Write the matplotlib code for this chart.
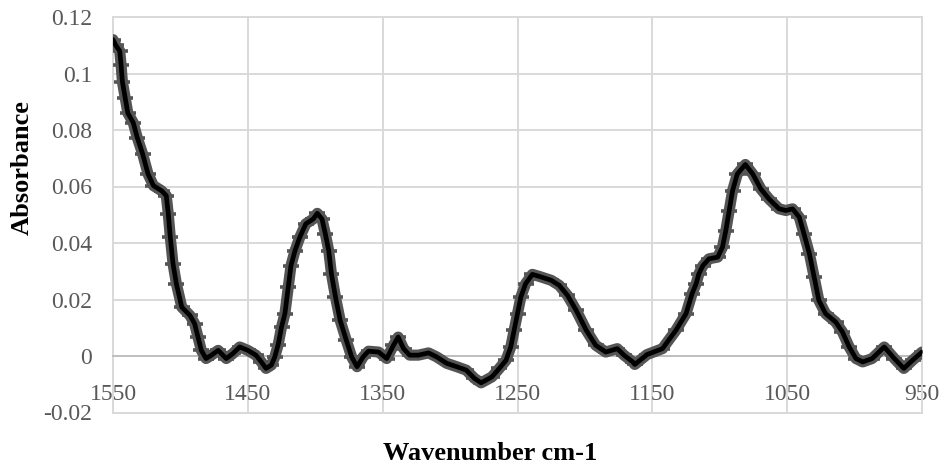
import matplotlib
matplotlib.use("Agg")
import matplotlib.pyplot as plt

plt.rcParams['font.family'] = ['Liberation Serif', 'DejaVu Serif']

wavenumber = [1550, 1548, 1545, 1544, 1543, 1541, 1539, 1535, 1532, 1528, 1524, 1520,
              1514, 1510.5, 1509, 1507.5, 1505.5, 1503, 1499, 1493, 1489.5, 1487, 1484.5,
              1481, 1477, 1472, 1466, 1461, 1456, 1450, 1444, 1440, 1436.5, 1432.5, 1430,
              1427.5, 1425, 1422.5, 1420, 1418, 1415, 1411.5, 1407, 1401.5, 1398.5, 1395,
              1392.5, 1390, 1388, 1385, 1381.5, 1377, 1373, 1369, 1364.5, 1360.5, 1353,
              1347, 1342, 1338.5, 1334.5, 1330, 1323.5, 1316, 1310, 1302.5, 1295, 1288,
              1282, 1277, 1269, 1263.5, 1258.5, 1255, 1252.5, 1250, 1247.5, 1244, 1239,
              1234, 1225, 1219, 1213, 1206.5, 1199, 1192, 1184.5, 1176, 1171, 1164.5,
              1163, 1154, 1142.5, 1132.5, 1125, 1120.5, 1117.5, 1115.5, 1112.5, 1108,
              1101.5, 1098, 1095.5, 1093, 1090.5, 1087, 1081, 1075.5, 1069.5, 1063.5,
              1056, 1051, 1046, 1041, 1037.5, 1033.5, 1030, 1026.5, 1021.5, 1014, 1009,
              1004, 999, 994, 987, 978, 970.5, 963.5, 957, 950]
absorbance = [0.112, 0.110, 0.108, 0.103, 0.097, 0.0915, 0.086, 0.0826, 0.0773, 0.0715,
              0.0644, 0.0603, 0.0585, 0.0568, 0.0503, 0.042, 0.0327, 0.0256, 0.0173,
              0.0144, 0.0115, 0.0067, 0.002, -0.0009, 0.0003, 0.002, -0.0009, 0.0009,
              0.0032, 0.002, 0.0003, -0.0021, -0.0044, -0.0032, -0.0003, 0.004, 0.0103,
              0.015, 0.0244, 0.032, 0.0373, 0.042, 0.0468, 0.0485, 0.0505, 0.0485, 0.0432,
              0.0373, 0.0291, 0.0209, 0.0126, 0.0056, -0.0003, -0.0038, -0.0003, 0.0017,
              0.0014, -0.0009, 0.0038, 0.0067, 0.0026, 0.0003, 0.0003, 0.0011, -0.0003,
              -0.0026, -0.0038, -0.005, -0.0079, -0.0095, -0.0074, -0.0044, -0.0015,
              0.0032, 0.0091, 0.015, 0.0209, 0.0256, 0.0289, 0.0282, 0.0268, 0.025,
              0.0215, 0.0162, 0.0091, 0.0038, 0.0014, 0.0026, 0.0003, -0.0021, -0.003,
              0.0005, 0.0026, 0.0091, 0.015, 0.0221, 0.0256, 0.0291, 0.032, 0.0344,
              0.035, 0.0385, 0.0444, 0.0515, 0.0585, 0.0644, 0.0678, 0.0644, 0.0591,
              0.0556, 0.0521, 0.0515, 0.0521, 0.0491, 0.0432, 0.0362, 0.0279, 0.0197,
              0.015, 0.012, 0.0085, 0.0032, -0.0009, -0.0021, -0.0009, 0.0032, -0.0009,
              -0.0044, -0.0015, 0.0014]

x_ticks = [1550, 1450, 1350, 1250, 1150, 1050, 950]
y_ticks = [-0.02, 0, 0.02, 0.04, 0.06, 0.08, 0.1, 0.12]
y_tick_labels = ['-0.02', '0', '0.02', '0.04', '0.06', '0.08', '0.1', '0.12']

grid_c = '#d9d9d9'
fig = plt.figure(figsize=(9.45, 4.71), dpi=100)
ax = fig.add_axes([113 / 945, 1 - 412.5 / 471, (922 - 113) / 945, (412.5 - 17) / 471])

ax.plot(wavenumber, absorbance, color='#555555', lw=8.0, solid_capstyle='round',
        solid_joinstyle='round', zorder=3)
ax.plot(wavenumber, absorbance, ls='none', marker='_', ms=11, mew=2.6,
        color='#555555', zorder=3.2)
ax.plot(wavenumber, absorbance, color='black', lw=3.4, solid_joinstyle='round',
        solid_capstyle='round', zorder=4)

ax.set_xlim(1550, 950)
ax.set_ylim(-0.02, 0.12)
ax.set_xticks(x_ticks)
ax.set_xticklabels([str(v) for v in x_ticks])
ax.set_yticks(y_ticks)
ax.set_yticklabels(y_tick_labels)

ax.grid(True, color=grid_c, lw=1.4, zorder=0)
ax.set_axisbelow(True)

for s in ['left', 'right', 'top']:
    ax.spines[s].set_color(grid_c)
    ax.spines[s].set_linewidth(1.4)
ax.spines['bottom'].set_position(('data', 0))
ax.spines['bottom'].set_color('#bfbfbf')
ax.spines['bottom'].set_linewidth(1.4)
ax.axhline(-0.02, color=grid_c, lw=1.4, clip_on=False, zorder=0)

ax.tick_params(axis='both', length=0, labelsize=17, labelcolor='#595959')
ax.tick_params(axis='x', pad=20)
ax.tick_params(axis='y', pad=15)

fig.text(22 / 945, 1 - 168 / 471, 'Absorbance', rotation=90, fontsize=19,
         fontweight='bold', ha='center', va='center')
fig.text(490.5 / 945, 1 - 453 / 471, 'Wavenumber cm-1', fontsize=19,
         fontweight='bold', ha='center', va='center')

fig.savefig('out.png', dpi=100)
